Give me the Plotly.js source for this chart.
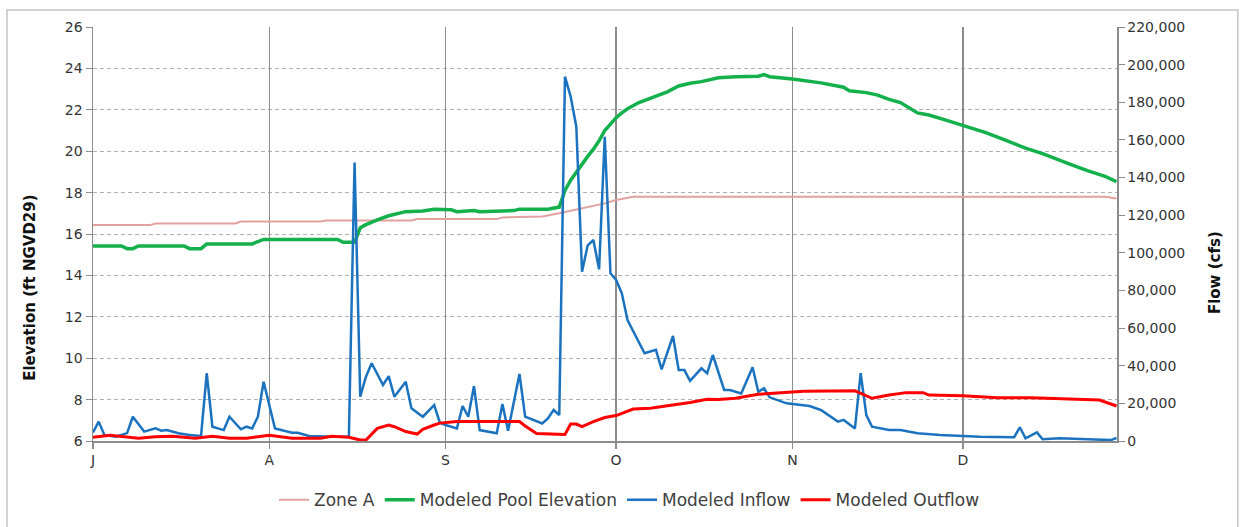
<!DOCTYPE html>
<html>
<head>
<meta charset="utf-8">
<script src="https://cdn.plot.ly/plotly-3.0.1.min.js"></script>
<style>
  html, body { margin: 0; padding: 0; background: #ffffff; }
  #chart { width: 1248px; height: 527px; }
</style>
</head>
<body>
<div id="chart"></div>
<script>
// ---- Data (day index counted from July 1) ----
const monthTickDates = ['2013-07-01','2013-08-01','2013-09-01','2013-10-01','2013-11-01','2013-12-01'];
const monthTickLabels = ['J','A','S','O','N','D'];

const zoneADay = [0, 10, 11, 25, 26, 40, 41, 56, 57, 71, 72, 79, 82, 86, 90, 92, 95, 178, 180];
const zoneAFt  = [16.43, 16.43, 16.51, 16.51, 16.6, 16.6, 16.65, 16.65, 16.72, 16.72, 16.8, 16.85, 17.0, 17.24, 17.48, 17.64, 17.8, 17.8, 17.72];

const poolDay = [0, 5, 6, 7, 8, 16, 17, 19, 20, 28, 30, 43, 44, 46, 47, 48, 50, 52, 55, 58, 60, 63, 64, 67, 68, 74, 75, 80, 82,
                 83, 84, 85, 86, 87, 88, 89, 90, 91, 92, 93, 94, 96, 98, 101, 103, 105, 107, 110, 113, 117, 118, 119, 123,
                 126, 128, 132, 133, 136, 138, 140, 142, 145, 147, 150, 153, 157, 160, 164, 167, 169, 172, 175, 178, 180];
const poolFt  = [15.42, 15.42, 15.29, 15.29, 15.42, 15.42, 15.29, 15.29, 15.52, 15.52, 15.74, 15.74, 15.6, 15.6, 16.3, 16.45, 16.68, 16.88, 17.08, 17.11, 17.19, 17.17, 17.08, 17.13, 17.08, 17.13, 17.2, 17.2, 17.3,
                 18.1, 18.6, 19.0, 19.4, 19.75, 20.1, 20.5, 21.0, 21.3, 21.62, 21.85, 22.05, 22.35, 22.55, 22.87, 23.15, 23.28, 23.36, 23.55, 23.6, 23.62, 23.7, 23.6, 23.49,
                 23.4, 23.3, 23.09, 22.92, 22.83, 22.71, 22.5, 22.35, 21.85, 21.75, 21.5, 21.25, 20.9, 20.58, 20.15, 19.88, 19.66, 19.35, 19.05, 18.78, 18.53];

const inflowDay = [0, 1, 2, 4, 6, 7, 9, 11, 12, 13, 15, 17, 19, 20, 21, 23, 24, 26, 27, 28, 29, 30, 32, 33, 35, 36, 38, 42, 45,
                   46, 47, 48, 49, 51, 52, 53, 55, 56, 58, 60, 61, 62, 64, 65, 66, 67, 68, 71, 72, 73, 75, 76, 78, 79, 80, 81, 82,
                   83, 84, 85, 86, 87, 88, 89, 90, 91, 92, 93, 94, 96, 97, 99, 100, 102, 103, 104, 105, 107, 108, 109, 110, 111, 112, 114, 116, 117, 118, 119, 122,
                   126, 128, 131, 132, 134, 135, 136, 137, 140, 142, 145, 149, 153, 156, 162, 163, 164, 166, 167, 170, 175, 179, 180];
const inflowCfs = [4500, 10300, 3200, 2300, 4200, 12900, 5000, 6700, 5500, 5800, 4100, 3200, 2700, 36000, 7600, 5800, 12900, 6200, 7600, 6700, 12900, 31500, 6700, 5800, 4400, 4400, 2700, 2200, 2200,
                   148000, 23500, 34200, 41300, 29800, 34500, 23500, 31500, 17400, 12900, 19100, 9700, 8500, 6700, 18600, 12900, 29200, 5800, 4100, 19700, 5500, 35600, 12900, 10300, 9300, 12000, 16500, 13800,
                   193600, 183000, 167000, 90000, 104000, 106800, 91200, 161700, 89100, 85600, 78500, 64300, 52000, 46600, 48400, 38100, 55800, 37700, 37700, 32000, 38600, 36000, 45700, 36000, 27100, 27100, 25300, 39200, 26200, 28000, 23200, 20000,
                   18600, 16500, 10300, 11200, 6700, 36000, 13800, 7600, 5800, 5800, 4100, 3200, 2700, 2300, 2000, 7300, 1400, 4600, 900, 1400, 900, 500, 1600];

const outflowDay = [0, 3, 8, 11, 14, 18, 21, 24, 27, 31, 35, 40, 42, 45, 47, 48, 50, 52, 53, 55, 57, 58, 60, 61, 64, 75, 76, 78, 83,
                    84, 85, 86, 88, 90, 92, 95, 98, 101, 105, 108, 110, 113, 117, 121, 125, 134, 137, 140, 143, 146, 147, 153, 159, 165, 172, 177, 180];
const outflowCfs = [2000, 3000, 1500, 2200, 2500, 1500, 2500, 1500, 1500, 3000, 1500, 1500, 2500, 2000, 500, 500, 6700, 8500, 7600, 5000, 3700, 6200, 8500, 9500, 10300, 10300, 8000, 4000, 3500,
                    9000, 9000, 7600, 10300, 12500, 13500, 17000, 17400, 18600, 20500, 22200, 22000, 22700, 24800, 25700, 26500, 26700, 22700, 24400, 25700, 25700, 24400, 24100, 23000, 23000, 22200, 21800, 18600];

// ---- helpers ----
function dayToDate(d) {
  const t = Date.UTC(2013, 6, 1) + d * 86400000;
  return new Date(t).toISOString().slice(0, 10);
}
const toDates = arr => arr.map(dayToDate);

const FONT = 'DejaVu Sans, Verdana, sans-serif';
const GRIDGRAY = '#8c8c8c';

const traces = [
  { name: 'Zone A', x: toDates(zoneADay), y: zoneAFt, type: 'scatter', mode: 'lines',
    line: { color: '#e3a0a0', width: 2 }, yaxis: 'y' },
  { name: 'Modeled Pool Elevation', x: toDates(poolDay), y: poolFt, type: 'scatter', mode: 'lines',
    line: { color: '#14b04c', width: 3.5 }, yaxis: 'y' },
  { name: 'Modeled Inflow', x: toDates(inflowDay), y: inflowCfs, type: 'scatter', mode: 'lines',
    line: { color: '#1b73c0', width: 2.5 }, yaxis: 'y2' },
  { name: 'Modeled Outflow', x: toDates(outflowDay), y: outflowCfs, type: 'scatter', mode: 'lines',
    line: { color: '#ff0000', width: 3 }, yaxis: 'y2' }
];

const layout = {
  width: 1248, height: 527,
  margin: { l: 93, r: 131, t: 27, b: 86, autoexpand: false },
  paper_bgcolor: '#ffffff', plot_bgcolor: '#ffffff',
  font: { family: FONT, size: 14, color: '#333333' },
  showlegend: true,
  legend: {
    orientation: 'h', x: 0.524, xanchor: 'center', y: -0.143, yanchor: 'middle',
    font: { family: FONT, size: 17, color: '#404040' }, traceorder: 'normal'
  },
  xaxis: {
    type: 'date',
    range: ['2013-07-01', '2013-12-28 02:00'],
    tickmode: 'array', tickvals: monthTickDates, ticktext: monthTickLabels,
    showgrid: true, gridcolor: GRIDGRAY, gridwidth: 1.5,
    showline: true, linecolor: GRIDGRAY, linewidth: 1.5,
    ticks: 'outside', ticklen: 6, tickcolor: GRIDGRAY, tickwidth: 1.5,
    tickfont: { family: FONT, size: 14, color: '#333333' },
    zeroline: false, fixedrange: true
  },
  yaxis: {
    range: [6, 26],
    tickmode: 'array', tickvals: [6, 8, 10, 12, 14, 16, 18, 20, 22, 24, 26],
    showgrid: false,
    minor: { tickmode: 'array', tickvals: [8, 10, 12, 14, 16, 18, 20, 22, 24], showgrid: true,
             gridcolor: '#b0b0b0', gridwidth: 1, griddash: '4px,3px', ticks: '' },
    showline: true, linecolor: GRIDGRAY, linewidth: 1.5,
    ticks: 'outside', ticklen: 6, tickcolor: GRIDGRAY, tickwidth: 1,
    tickfont: { family: FONT, size: 14, color: '#333333' },
    zeroline: false, fixedrange: true
  },
  yaxis2: {
    range: [0, 220000], overlaying: 'y', side: 'right',
    tickmode: 'array', tickvals: [0, 20000, 40000, 60000, 80000, 100000, 120000, 140000, 160000, 180000, 200000, 220000],
    tickformat: ',d',
    showgrid: false, showline: true, linecolor: GRIDGRAY, linewidth: 1.5,
    ticks: 'outside', ticklen: 6, tickcolor: GRIDGRAY, tickwidth: 1,
    tickfont: { family: FONT, size: 14, color: '#333333' },
    zeroline: false, fixedrange: true
  },
  annotations: [
    { text: '<b>Elevation (ft NGVD29)</b>', xref: 'paper', yref: 'paper', x: -0.0615, y: 0.37,
      xanchor: 'center', yanchor: 'middle', textangle: -90, showarrow: false,
      font: { family: FONT, size: 15, color: '#111111' } },
    { text: '<b>Flow (cfs)</b>', xref: 'paper', yref: 'paper', x: 1.0957, y: 0.408,
      xanchor: 'center', yanchor: 'middle', textangle: -90, showarrow: false,
      font: { family: FONT, size: 15, color: '#111111' } }
  ],
  shapes: [
    { type: 'rect', xref: 'paper', yref: 'paper', x0: -0.084, x1: 1.118, y0: -0.23, y1: 1.041,
      line: { color: '#c4c4c4', width: 1.5 }, fillcolor: 'rgba(0,0,0,0)', layer: 'below' }
  ]
};

Plotly.newPlot('chart', traces, layout, { displayModeBar: false, staticPlot: true });
</script>
</body>
</html>
